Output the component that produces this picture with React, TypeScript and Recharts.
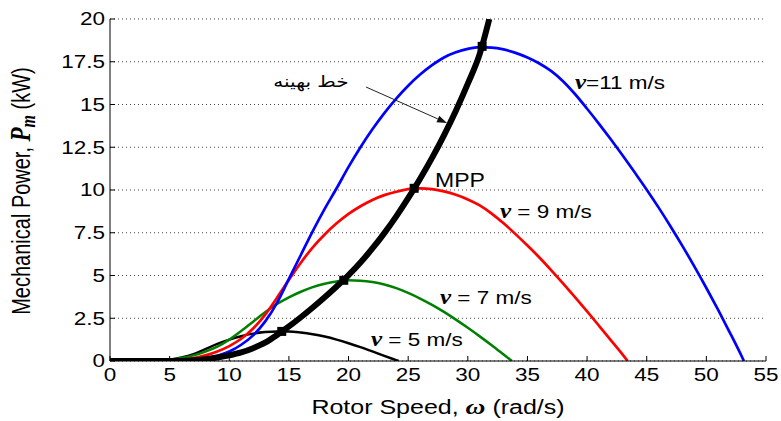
import React from "react";
import { ComposedChart, Line, XAxis, YAxis, CartesianGrid } from "recharts";

// [rotor speed ω (rad/s), mechanical power (kW)] for each wind speed
const wind5: [number, number][] = [
  [0, 0], [3, 0], [4, 0.02], [5, 0.07], [6, 0.2], [7, 0.4], [8, 0.7], [9, 1.0], [10, 1.25],
  [11, 1.45], [12, 1.6], [13, 1.69], [14, 1.73], [15, 1.73], [16, 1.67], [17, 1.57], [18, 1.43],
  [19, 1.25], [20, 1.04], [21, 0.81], [22, 0.56], [23, 0.3], [24, 0.05], [24.2, 0],
];
const wind7: [number, number][] = [
  [0, 0], [3, 0], [4, 0.02], [5, 0.07], [6, 0.17], [7, 0.33], [8, 0.55], [9, 0.84], [10, 1.25],
  [11, 1.75], [12, 2.3], [13, 2.85], [14, 3.33], [15, 3.72], [16, 4.05], [17, 4.32], [18, 4.52],
  [19, 4.65], [20, 4.72], [21, 4.7], [22, 4.62], [23, 4.47], [24, 4.26], [25, 3.98], [26, 3.65],
  [27, 3.28], [28, 2.87], [29, 2.42], [30, 1.94], [31, 1.44], [32, 0.92], [33, 0.38], [33.7, 0],
];
const wind9: [number, number][] = [
  [0, 0], [4, 0], [5, 0.02], [6, 0.07], [7, 0.17], [8, 0.33], [9, 0.56], [10, 0.87], [11, 1.3],
  [12, 1.9], [13, 2.7], [14, 3.7], [15, 4.75], [16, 5.75], [17, 6.65], [18, 7.4], [19, 8.05],
  [20, 8.6], [21, 9.05], [22, 9.42], [23, 9.7], [24, 9.9], [25, 10.05], [26, 10.1], [27, 10.05],
  [28, 9.92], [29, 9.72], [30, 9.45], [31, 9.1], [32, 8.62], [33, 8.05], [34, 7.42], [35, 6.75],
  [36, 6.05], [37, 5.3], [38, 4.52], [39, 3.72], [40, 2.9], [41, 2.06], [42, 1.21], [43, 0.36],
  [43.4, 0],
];
const wind11: [number, number][] = [
  [0, 0], [5, 0], [6, 0.02], [7, 0.06], [8, 0.15], [9, 0.3], [10, 0.55], [11, 0.95], [12, 1.5],
  [13, 2.3], [14, 3.4], [15, 4.8], [16, 6.2], [17, 7.6], [18, 8.9], [19, 10.1], [20, 11.35],
  [21, 12.5], [22, 13.55], [23, 14.5], [24, 15.35], [25, 16.1], [26, 16.75], [27, 17.3], [28, 17.75],
  [29, 18.05], [30, 18.25], [31, 18.35], [32, 18.33], [33, 18.22], [34, 18.02], [35, 17.75],
  [36, 17.4], [37, 16.95], [38, 16.35], [39, 15.6], [40, 14.75], [41, 13.87], [42, 12.95],
  [43, 12.0], [44, 11.02], [45, 10.02], [46, 8.97], [47, 7.87], [48, 6.72], [49, 5.52], [50, 4.27],
  [51, 2.97], [52, 1.62], [53, 0.22], [53.15, 0],
];
// optimum power curve through the maximum power points
const optimum: [number, number][] = [
  [0, 0], [2.5, 0], [5, 0], [6, 0], [7, 0.04], [8, 0.1], [9, 0.2], [10, 0.33], [11, 0.5],
  [12, 0.75], [13, 1.07], [14, 1.52], [15, 2.02], [16, 2.56], [17, 3.13], [18, 3.73], [19, 4.36],
  [20, 5.02], [21, 5.76], [22, 6.58], [23, 7.48], [24, 8.46], [25, 9.52], [26, 10.66], [27, 11.88],
  [28, 13.2], [29, 14.64], [30, 16.22], [31, 17.96], [31.8, 20],
];
const mppPoints: [number, number][] = [[14.4, 1.73], [19.6, 4.72], [25.5, 10.1], [31.2, 18.4]];

const xTicks = [0, 5, 10, 15, 20, 25, 30, 35, 40, 45, 50, 55];
const yTicks = [0, 2.5, 5, 7.5, 10, 12.5, 15, 17.5, 20];

const toPoints = (pairs: [number, number][]) => pairs.map(([w, p]) => ({ w, p }));

const SANS = "'Liberation Sans', Arial, sans-serif";
const SERIF = "'Liberation Serif', 'Times New Roman', serif";
const STRETCH = 1.25;

const BottomTick = ({ x, y, payload }: any) => (
  <g>
    <line x1={x} y1={y} x2={x} y2={y - 5} stroke="#000" />
    <text
      transform={`translate(${x},${y + 20}) scale(${STRETCH},1)`}
      textAnchor="middle"
      fontSize={18}
      fontFamily={SANS}
      fill="#000"
    >
      {payload.value}
    </text>
  </g>
);

const LeftTick = ({ x, y, payload }: any) => (
  <g>
    <line x1={x} y1={y} x2={x + 5} y2={y} stroke="#000" />
    <text
      transform={`translate(${x - 5},${y}) scale(${STRETCH},1)`}
      textAnchor="end"
      dy="0.36em"
      fontSize={18}
      fontFamily={SANS}
      fill="#000"
    >
      {payload.value}
    </text>
  </g>
);

const TopTick = ({ x, y }: any) => <line x1={x} y1={y} x2={x} y2={y + 5} stroke="#000" />;
const RightTick = ({ x, y }: any) => <line x1={x - 5} y1={y} x2={x} y2={y} stroke="#000" />;

const SquareDot = ({ cx, cy }: any) =>
  cx == null ? null : <rect x={cx - 4.5} y={cy - 4.5} width={9} height={9} fill="#000" />;

function WindLabel({ x, y, speed, tight }: { x: number; y: number; speed: string; tight?: boolean }) {
  return (
    <text transform={`translate(${x},${y}) scale(${STRETCH},1)`} fontSize={18} fontFamily={SANS} fill="#000">
      <tspan fontFamily={SERIF} fontStyle="italic" fontWeight="bold" fontSize={20}>v</tspan>
      <tspan>{tight ? `=${speed} m/s` : ` = ${speed} m/s`}</tspan>
    </text>
  );
}

function Arrow({ x1, y1, x2, y2 }: { x1: number; y1: number; x2: number; y2: number }) {
  const len = Math.hypot(x2 - x1, y2 - y1);
  const ux = (x2 - x1) / len;
  const uy = (y2 - y1) / len;
  const bx = x2 - ux * 10;
  const by = y2 - uy * 10;
  const pts = `${x2},${y2} ${bx - uy * 3.5},${by + ux * 3.5} ${bx + uy * 3.5},${by - ux * 3.5}`;
  return (
    <g>
      <line x1={x1} y1={y1} x2={bx} y2={by} stroke="#222" strokeWidth={1} />
      <polygon points={pts} fill="#111" />
    </g>
  );
}

const lineProps = { dataKey: "p", type: "monotone" as const, dot: false, isAnimationActive: false };

export default function App() {
  return (
    <div style={{ position: "absolute", left: 0, top: 0, width: 781, height: 421, background: "#fff" }}>
      <ComposedChart width={781} height={421} margin={{ top: 19, right: 15, bottom: 0, left: 0 }}>
        <CartesianGrid vertical={false} stroke="#444" strokeDasharray="1 3" />
        <XAxis
          type="number"
          dataKey="w"
          domain={[0, 55]}
          ticks={xTicks}
          height={60}
          tickSize={0}
          tickMargin={0}
          tick={BottomTick}
          axisLine={{ stroke: "#000" }}
          allowDataOverflow
        />
        <XAxis
          xAxisId="top"
          orientation="top"
          type="number"
          domain={[0, 55]}
          ticks={xTicks}
          height={0}
          tickSize={0}
          tickMargin={0}
          tick={TopTick}
          axisLine={{ stroke: "#000" }}
          allowDataOverflow
        />
        <YAxis
          type="number"
          dataKey="p"
          domain={[0, 20]}
          ticks={yTicks}
          width={110}
          tickSize={0}
          tickMargin={0}
          tick={LeftTick}
          axisLine={{ stroke: "#000" }}
          allowDataOverflow
        />
        <YAxis
          yAxisId="right"
          orientation="right"
          type="number"
          domain={[0, 20]}
          ticks={yTicks}
          width={0}
          tickSize={0}
          tickMargin={0}
          tick={RightTick}
          axisLine={{ stroke: "#000" }}
          allowDataOverflow
        />
        <Line {...lineProps} data={toPoints(wind5)} stroke="#000" strokeWidth={2.5} />
        <Line {...lineProps} data={toPoints(wind7)} stroke="#008000" strokeWidth={2.5} />
        <Line {...lineProps} data={toPoints(wind9)} stroke="#ff0000" strokeWidth={2.7} />
        <Line {...lineProps} data={toPoints(wind11)} stroke="#0000ff" strokeWidth={2.7} />
        <Line {...lineProps} data={toPoints(optimum)} stroke="#000" strokeWidth={6} />
        <Line
          data={toPoints(mppPoints)}
          dataKey="p"
          stroke="none"
          dot={SquareDot}
          activeDot={false}
          isAnimationActive={false}
        />
      </ComposedChart>

      <svg width={781} height={421} style={{ position: "absolute", left: 0, top: 0, pointerEvents: "none" }}>
        <text
          transform={`translate(30,191) scale(${STRETCH},1) rotate(-90)`}
          textAnchor="middle"
          fontSize={20}
          fontFamily={SANS}
          fill="#000"
        >
          Mechanical Power,{" "}
          <tspan fontFamily={SERIF} fontStyle="italic" fontWeight="bold" fontSize={23}>P</tspan>
          <tspan fontFamily={SERIF} fontStyle="italic" fontWeight="bold" fontSize={16} dy={4}>m</tspan>
          <tspan dy={-4}>{"  (kW)"}</tspan>
        </text>
        <text
          transform={`translate(438,414) scale(${STRETCH},1)`}
          textAnchor="middle"
          fontSize={20}
          fontFamily={SANS}
          fill="#000"
        >
          Rotor Speed,{" "}
          <tspan fontFamily={SERIF} fontStyle="italic" fontWeight="bold" fontSize={22}>ω</tspan>
          {"  (rad/s)"}
        </text>

        <WindLabel x={575} y={89} speed="11" tight />
        <WindLabel x={500} y={218} speed="9" />
        <WindLabel x={440} y={304} speed="7" />
        <WindLabel x={371} y={346} speed="5" />

        <text transform="translate(435,187) scale(1.15,1)" fontSize={20} fontFamily={SANS} fill="#000">
          MPP
        </text>

        <text
          transform={`translate(311,87) scale(${STRETCH},1)`}
          textAnchor="middle"
          fontSize={16}
          fontFamily="'DejaVu Sans', sans-serif"
          direction="rtl"
          fill="#000"
        >
          خط بهینه
        </text>
        <Arrow x1={366} y1={87} x2={447} y2={123} />
      </svg>
    </div>
  );
}
